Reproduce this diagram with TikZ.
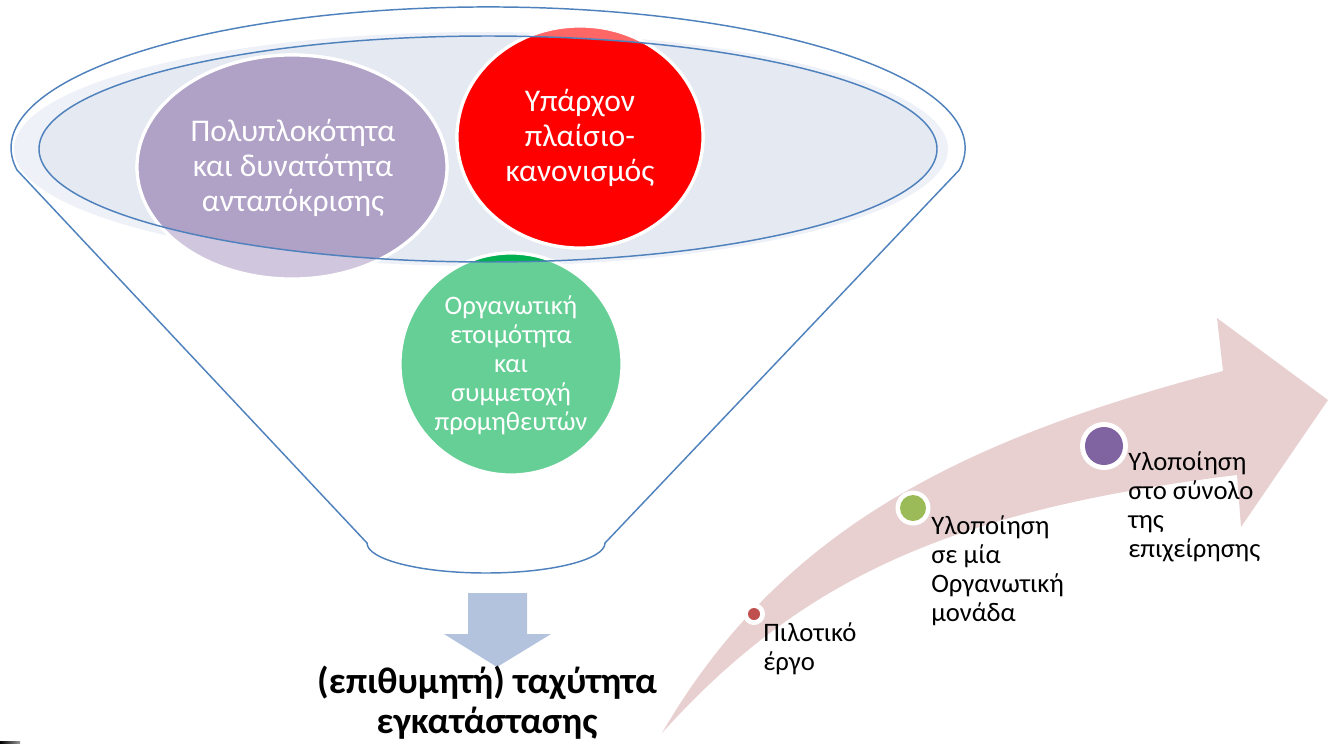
\documentclass[tikz,border=0pt]{standalone}
\usepackage{fontspec}
\setmainfont{Carlito}
\usetikzlibrary{shapes.geometric}
\definecolor{rimblue}{HTML}{4F81BD}
\definecolor{rimfill}{HTML}{E4E9F2}
\definecolor{rimglow}{HTML}{EEF1F7}
\definecolor{purpleS}{HTML}{B0A1C6}
\definecolor{purpleL}{HTML}{D0C6DE}
\definecolor{redS}{HTML}{FF0000}
\definecolor{redL}{HTML}{FF6666}
\definecolor{greenS}{HTML}{00B050}
\definecolor{greenL}{HTML}{66CF96}
\definecolor{downblue}{HTML}{B3C3DE}
\definecolor{pinkarrow}{HTML}{E8D0D1}
\definecolor{dotred}{HTML}{C0504D}
\definecolor{dotgreen}{HTML}{9BBB59}
\definecolor{dotpurple}{HTML}{8064A2}
\begin{document}
\begin{tikzpicture}[x=0.75pt,y=-0.75pt,
  rimline/.style={draw=rimblue,line width=1.1pt},
  bubble/.style={draw=white,line width=2.4pt},
  bigtxt/.style={text=white,align=center,inner sep=0pt,font=\fontsize{23.7}{26.5}\selectfont},
  midtxt/.style={text=white,align=center,inner sep=0pt,font=\fontsize{20}{21.75}\selectfont},
  steptxt/.style={text=black,align=left,inner sep=0pt,anchor=north west,font=\fontsize{20}{21.75}\selectfont},
  boldtxt/.style={text=black,align=center,inner sep=0pt,font=\fontsize{27.8}{30}\selectfont\bfseries},
  dotring/.style={fill=white}]
\useasboundingbox (0,0) rectangle (1328,743);
% funnel outline
\draw[rimline] (17,170) arc[start angle=171,end angle=369,x radius=477,y radius=141]
  -- (605,543) arc[start angle=0,end angle=180,x radius=119,y radius=30] -- cycle;
% rim
\fill[rimglow] (481,149) ellipse[x radius=467,y radius=117];
\fill[rimfill] (488,149) ellipse[x radius=449,y radius=113];
% bubbles, light parts
\filldraw[bubble,fill=purpleL] (292,167) ellipse[x radius=155,y radius=112];
\filldraw[bubble,fill=redL] (580,137) ellipse[x radius=123,y radius=111];
\filldraw[bubble,fill=greenL] (511,364) ellipse[x radius=111,y radius=111];
% bubbles, strong parts inside rim
\begin{scope}
\clip (488,149) ellipse[x radius=449,y radius=113];
\filldraw[bubble,fill=purpleS] (292,167) ellipse[x radius=155,y radius=112];
\filldraw[bubble,fill=redS] (580,137) ellipse[x radius=123,y radius=111];
\filldraw[bubble,fill=greenS] (511,364) ellipse[x radius=111,y radius=111];
\end{scope}
\draw[rimline] (488,149) ellipse[x radius=449,y radius=113];
% bubble texts
\node[bigtxt] (pb) at (293,168) {Πολυπλοκότητα\\και δυνατότητα\\ανταπόκρισης};
\node[bigtxt] (rb) at (580,138) {Υπάρχον\\πλαίσιο-\\κανονισμός};
\node[midtxt] (gb) at (511,365) {Οργανωτική\\ετοιμότητα\\και\\συμμετοχή\\προμηθευτών};
% down arrow
\fill[downblue] (468,593) -- (527,593) -- (527,634) -- (551,634) -- (497,667) -- (444,634) -- (468,634) -- cycle;
\node[boldtxt] (res) at (487,703) {(επιθυμητή) ταχύτητα\\εγκατάστασης};
% curved arrow
\fill[pinkarrow] (662,733) .. controls (780,530) and (960,440) .. (1223,371)
  -- (1217,318) -- (1328,400) -- (1241,527) -- (1237,475)
  .. controls (950,510) and (800,580) .. (662,733) -- cycle;
% dots
\fill[dotring] (754,614) circle[radius=11];
\fill[dotred] (754,614) circle[radius=6];
\fill[dotring] (913,508) circle[radius=17.5];
\fill[dotgreen] (913,508) circle[radius=13];
\fill[dotring] (1104,446) circle[radius=24];
\fill[dotpurple] (1104,446) circle[radius=19];
\node[steptxt] (s1) at (763,622) {Πιλοτικό\\έργο};
\node[steptxt] (s2) at (931,515) {Υλοποίηση\\σε μία\\Οργανωτική\\μονάδα};
\node[steptxt] (s3) at (1128,451) {Υλοποίηση\\στο σύνολο\\της\\επιχείρησης};
% small mark at bottom left
\fill[left color=black,right color=black!40] (0,741) rectangle (20,743);
\end{tikzpicture}
\end{document}
